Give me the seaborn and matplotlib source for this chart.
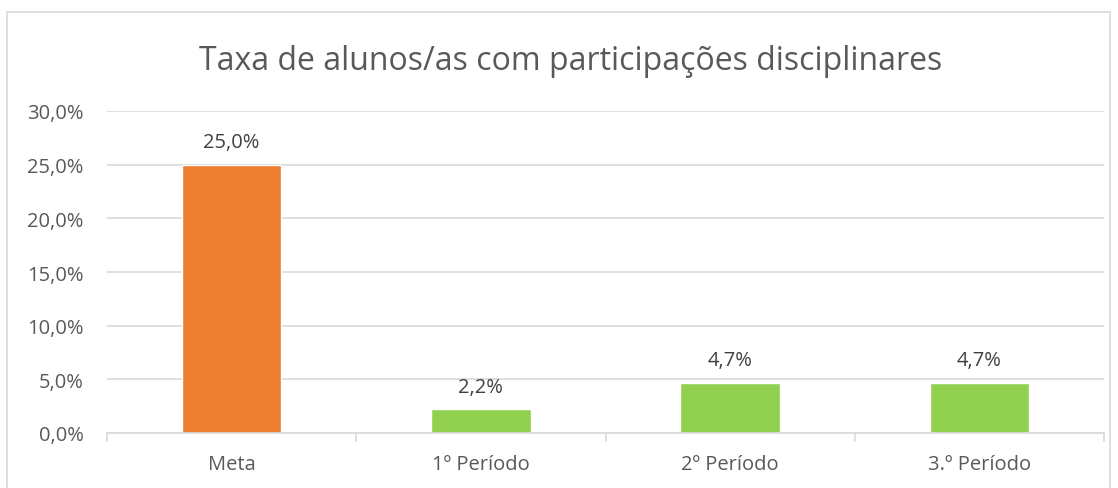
import matplotlib
matplotlib.use("Agg")
import matplotlib.pyplot as plt
import seaborn as sns
import pandas as pd
from matplotlib.patches import Rectangle
from matplotlib.ticker import FuncFormatter, MultipleLocator

categories = ["Meta", "1º Período", "2º Período", "3.º Período"]
values = [25.0, 2.2, 4.7, 4.7]
colors = ["#ED7D31", "#92D050", "#92D050", "#92D050"]
title = "Taxa de alunos/as com participações disciplinares"

sns.set_theme(style="white")
plt.rcParams["font.family"] = ["Open Sans", "DejaVu Sans"]

df = pd.DataFrame({"cat": categories, "val": values})

fig = plt.figure(figsize=(11.18, 4.89), dpi=100)
ax = fig.add_axes([107/1118, 1-434/489, (1104-107)/1118, (434-112)/489])

sns.barplot(data=df, x="cat", y="val", hue="cat", palette=colors, legend=False,
            width=0.4, ax=ax, saturation=1)

ax.set_ylim(0, 30)
ax.set_xlim(-0.5, len(categories)-0.5)
ax.yaxis.set_major_locator(MultipleLocator(5))
ax.yaxis.set_major_formatter(FuncFormatter(lambda v, p: f"{v:.1f}%".replace(".", ",")))
ax.grid(axis="y", color="#D9D9D9", linewidth=1.2)
ax.set_axisbelow(True)
for s in ["top", "right", "left"]:
    ax.spines[s].set_visible(False)
ax.spines["bottom"].set_color("#D9D9D9")
ax.spines["bottom"].set_linewidth(1.2)
ax.set_xlabel("")
ax.set_ylabel("")
ax.tick_params(axis="y", length=0, labelsize=14.5, labelcolor="#595959", pad=17)
ax.tick_params(axis="x", length=0, labelsize=14.5, labelcolor="#595959", pad=15)

# category boundary tick marks
for b in [i - 0.5 for i in range(len(categories)+1)]:
    ax.plot([b, b], [0, -0.75], color="#D9D9D9", linewidth=1.2, clip_on=False)

for i, v in enumerate(values):
    ax.text(i, v + 1.2, f"{v:.1f}%".replace(".", ","), ha="center", va="bottom",
            fontsize=14.5, color="#404040")

fig.text(571/1118, 1-61/489, title, ha="center", va="center", fontsize=23, color="#595959")

fig.patches.append(Rectangle((7/1118, -0.05), (1110-7)/1118, 1-13/489+0.05,
                             transform=fig.transFigure, fill=False,
                             edgecolor="#D9D9D9", linewidth=1.2))

fig.savefig("out.png", dpi=100, facecolor="white")
